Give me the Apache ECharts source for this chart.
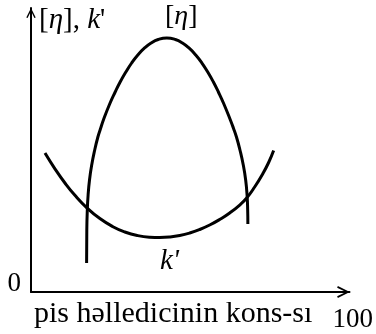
<!DOCTYPE html>
<html>
<head>
<meta charset="utf-8">
<script src="https://cdn.jsdelivr.net/npm/echarts@6/dist/echarts.min.js"></script>
<style>
  html, body { margin: 0; padding: 0; background: #fff; }
  #chart { width: 376px; height: 334px; }
</style>
</head>
<body>
<div id="chart"></div>
<script>
// Intrinsic viscosity [η] curve
var etaX = [17.46, 17.52, 17.68, 17.93, 18.37, 19.06, 20.00, 21.00, 21.79, 22.73, 24.70, 26.43, 27.99,
            29.78, 31.60, 33.54, 35.67, 37.71, 39.94, 42.63,
            45.33, 47.55, 49.59, 51.72, 53.67, 55.49, 57.27, 58.84, 60.56, 62.60, 63.54, 64.51,
            65.61, 66.65, 67.40, 67.84, 68.03, 68.09];
var etaY = [10.21, 21.83, 28.87, 34.15, 39.44, 44.72, 50.00, 54.58, 57.39, 60.56, 66.20, 70.42, 73.94,
            77.46, 80.63, 83.45, 85.92, 87.68, 88.91, 89.44,
            88.91, 87.68, 85.92, 83.45, 80.63, 77.46, 73.94, 70.42, 66.20, 60.56, 57.75, 54.58,
            50.00, 44.72, 39.44, 34.15, 28.87, 23.94];

// Huggins constant k' curve
var kX = [4.39, 7.52, 10.66, 13.79, 17.55, 21.63, 25.71, 29.47, 33.54, 37.30, 40.44, 43.57,
          46.71, 49.84, 52.98, 56.11, 59.25, 62.38, 65.52, 67.71, 70.22, 72.73, 74.61, 76.18];
var kY = [48.94, 43.38, 38.38, 34.05, 29.65, 25.85, 22.99, 21.13, 19.86, 19.30, 19.19, 19.37,
          19.89, 20.77, 22.01, 23.59, 25.53, 27.82, 30.63, 33.10, 36.97, 41.55, 45.60, 49.82];

// Axis tick labels shown at the ends
var xTickLabels = { 100: '100' };
var yTickLabels = { 0: '0' };

var xTitle = 'pis həlledicinin kons-sı';

function pairs(xs, ys) {
  return xs.map(function (x, i) { return [x, ys[i]]; });
}

var serif = '"Liberation Serif", "DejaVu Serif", serif';
// open chevron used as the axis arrowhead
var chevron = 'path://M0,10 L5,0 L10,10 L8.6,10.6 L5,3.2 L1.4,10.6 Z';

var chart = echarts.init(document.getElementById('chart'), null, { renderer: 'canvas' });

chart.setOption({
  backgroundColor: '#fff',
  animation: false,
  grid: { left: 31, right: 26, top: 8, bottom: 42, containLabel: false },
  xAxis: {
    type: 'value', min: 0, max: 100, interval: 100,
    axisLine: {
      show: true, onZero: false,
      lineStyle: { color: '#000', width: 2 },
      symbol: ['none', chevron], symbolSize: [12, 13], symbolOffset: [0, -6]
    },
    axisTick: { show: false },
    splitLine: { show: false },
    axisLabel: {
      color: '#000', fontFamily: serif, fontSize: 27, margin: 14,
      align: 'left', padding: [0, 0, 0, -17],
      formatter: function (v) { return xTickLabels[v] || ''; }
    }
  },
  yAxis: {
    type: 'value', min: 0, max: 100, interval: 100,
    axisLine: {
      show: true, onZero: false,
      lineStyle: { color: '#000', width: 2 },
      symbol: ['none', chevron], symbolSize: [10, 10], symbolOffset: [0, -5]
    },
    axisTick: { show: false },
    splitLine: { show: false },
    axisLabel: {
      color: '#000', fontFamily: serif, fontSize: 27, margin: 10,
      verticalAlign: 'bottom', lineHeight: 16,
      formatter: function (v) { return yTickLabels[v] || ''; }
    }
  },
  series: [
    {
      name: '[η]', type: 'line', data: pairs(etaX, etaY),
      smooth: 0.5, showSymbol: false,
      lineStyle: { color: '#000', width: 3 }
    },
    {
      name: "k'", type: 'line', data: pairs(kX, kY),
      smooth: 0.5, showSymbol: false,
      lineStyle: { color: '#000', width: 3 }
    }
  ],
  graphic: [
    {
      type: 'text', left: 39, top: 6,
      style: {
        text: '[{i|η}], {i|k}\'',
        font: '29px ' + serif, fill: '#000',
        rich: { i: { fontStyle: 'italic', fontFamily: serif, fontSize: 29, fill: '#000' } }
      }
    },
    {
      type: 'text', left: 165, top: 3,
      style: {
        text: '[{i|η}]',
        font: '28px ' + serif, fill: '#000',
        rich: { i: { fontStyle: 'italic', fontFamily: serif, fontSize: 28, fill: '#000' } }
      }
    },
    {
      type: 'text', left: 160, top: 247,
      style: { text: "k'", font: 'italic 29px ' + serif, fill: '#000' }
    },
    {
      type: 'text', left: 34, top: 299,
      style: { text: xTitle, font: '30px ' + serif, fill: '#000' }
    }
  ]
});
</script>
</body>
</html>
